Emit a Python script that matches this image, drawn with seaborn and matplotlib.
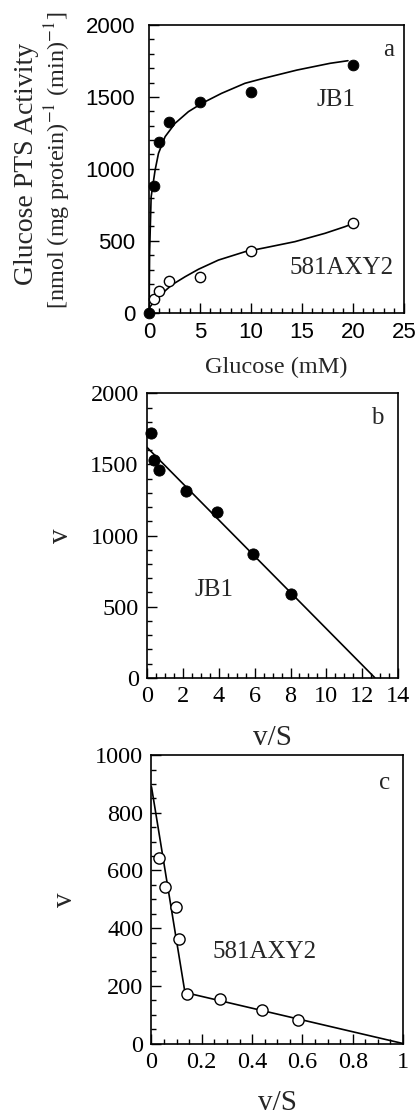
import matplotlib
matplotlib.use('Agg')
import matplotlib.pyplot as plt
from matplotlib.ticker import MultipleLocator
import seaborn as sns

# panel a: glucose PTS activity vs glucose
glucose = [0.5, 1, 2, 5, 10, 20]
jb1_act = [883, 1189, 1328, 1467, 1532, 1722]
axy2_act = [93, 153, 220, 246, 431, 626]

# fitted curves
jb1_curve_x = [0, 0.05, 0.2, 0.59, 0.92, 1.57, 2.55, 3.86, 5.16, 7.1, 9.4, 11.2, 14.5, 17.75, 19.5]
jb1_curve_y = [0, 420, 806, 992, 1108, 1224, 1317, 1398, 1455, 1525, 1595, 1629, 1687, 1734, 1752]
axy2_curve_x = [0, 0.1, 0.92, 2.22, 3.53, 4.84, 6.8, 9.4, 11.4, 14.3, 17.25, 19.2, 19.9]
axy2_curve_y = [0, 42, 111, 193, 250, 302, 366, 424, 452, 494, 552, 598, 617]

# panel b: Eadie-Hofstee, JB1
b_vs = [0.22, 0.41, 0.67, 2.15, 3.9, 5.92, 8.02]
b_v = [1723, 1531, 1461, 1315, 1167, 868, 586]
b_line_x = [0, 12.7]
b_line_y = [1620, 0]

# panel c: Eadie-Hofstee, 581AXY2
c_vs = [0.031, 0.054, 0.096, 0.109, 0.14, 0.272, 0.44, 0.584]
c_v = [644, 544, 474, 361, 172, 155, 118, 81]
c_line_x = [0, 0.133, 1.0]
c_line_y = [890, 177, 0]
c_tick_labels = ['0', '0.2', '0.4', '0.6', '0.8', '1']

sns.set_theme(style='ticks')
plt.rcParams['font.family'] = ['Liberation Serif', 'DejaVu Serif']
plt.rcParams['mathtext.fontset'] = 'stix'
plt.rcParams['axes.linewidth'] = 1.2

SERIF = 'Liberation Serif'
SANS = 'Liberation Sans'


def style_axes(ax, xmaj, xmin, ymaj, ymin, tickfont, labelsize):
    ax.xaxis.set_major_locator(MultipleLocator(xmaj))
    ax.xaxis.set_minor_locator(MultipleLocator(xmin))
    ax.yaxis.set_major_locator(MultipleLocator(ymaj))
    ax.yaxis.set_minor_locator(MultipleLocator(ymin))
    ax.tick_params(which='both', direction='in', top=False, right=False,
                   color='black', width=1.0)
    ax.tick_params(which='major', length=7, labelsize=labelsize, pad=6)
    ax.tick_params(which='minor', length=3.5)
    for lab in ax.get_xticklabels() + ax.get_yticklabels():
        lab.set_family(tickfont)
        lab.set_color('black')
    for sp in ax.spines.values():
        sp.set_color('black')
        sp.set_visible(True)
    ax.set_facecolor('white')


fig = plt.figure(figsize=(4.2, 11.18), dpi=100)
fig.patch.set_facecolor('white')

# ---- panel a ----
ax = fig.add_axes([0.355, 0.7203, 0.607, 0.2573])
sns.lineplot(x=jb1_curve_x, y=jb1_curve_y, color='black', lw=1.2, ax=ax)
sns.lineplot(x=axy2_curve_x, y=axy2_curve_y, color='black', lw=1.2, ax=ax)
sns.scatterplot(x=[0] + glucose, y=[0] + jb1_act, color='black', s=60,
                edgecolor='black', zorder=3, clip_on=False, ax=ax)
sns.scatterplot(x=glucose, y=axy2_act, facecolor='white', s=55,
                edgecolor='black', linewidth=1.0, zorder=3, clip_on=False, ax=ax)
ax.set_xlim(0, 25)
ax.set_ylim(0, 2000)
style_axes(ax, 5, 1, 500, 100, SANS, 16)
ax.tick_params(axis='y', which='major', pad=10)
ax.tick_params(axis='x', which='major', pad=7)
ax.set_xlabel('Glucose (mM)', fontsize=17.5, family=SERIF, labelpad=10)
# two-line y label, first line is set a bit larger in the original
fig.text(0.062, 0.853, 'Glucose PTS Activity', rotation=90, fontsize=20,
         family=SERIF, ha='center', va='center')
fig.text(0.138, 0.857, '[nmol (mg protein)$^{-1}$ (min)$^{-1}$]', rotation=90,
         fontsize=17.5, family=SERIF, ha='center', va='center')
ax.text(0.941, 0.913, 'a', transform=ax.transAxes, fontsize=18, ha='center', va='center')
ax.text(0.733, 0.739, 'JB1', transform=ax.transAxes, fontsize=18, ha='center', va='center')
ax.text(0.755, 0.155, '581AXY2', transform=ax.transAxes, fontsize=18, ha='center', va='center')

# ---- panel b ----
ax = fig.add_axes([0.35, 0.3938, 0.598, 0.2544])
sns.lineplot(x=b_line_x, y=b_line_y, color='black', lw=1.2, ax=ax)
sns.scatterplot(x=b_vs, y=b_v, color='black', s=65, edgecolor='black',
                zorder=3, clip_on=False, ax=ax)
ax.set_xlim(0, 14)
ax.set_ylim(0, 2000)
style_axes(ax, 2, 0.5, 500, 100, SERIF, 17.5)
ax.set_xlabel('v/S', fontsize=21, family=SERIF, labelpad=13)
ax.set_ylabel('v', fontsize=21, family=SERIF, labelpad=12)
ax.text(0.915, 0.912, 'b', transform=ax.transAxes, fontsize=18, ha='center', va='center')
ax.text(0.265, 0.308, 'JB1', transform=ax.transAxes, fontsize=18, ha='center', va='center')

# ---- panel c ----
ax = fig.add_axes([0.3607, 0.0666, 0.599, 0.258])
sns.lineplot(x=c_line_x, y=c_line_y, color='black', lw=1.2, ax=ax)
sns.scatterplot(x=c_vs, y=c_v, facecolor='white', s=65, edgecolor='black',
                linewidth=1.0, zorder=3, clip_on=False, ax=ax)
ax.set_xlim(0, 1)
ax.set_ylim(0, 1000)
style_axes(ax, 0.2, 0.05, 200, 50, SERIF, 17.5)
ax.set_xticks([0, 0.2, 0.4, 0.6, 0.8, 1.0])
ax.set_xticklabels(c_tick_labels, family=SERIF, fontsize=17.5)
ax.set_xlabel('v/S', fontsize=21, family=SERIF, labelpad=12)
ax.set_ylabel('v', fontsize=21, family=SERIF, labelpad=12)
ax.text(0.928, 0.902, 'c', transform=ax.transAxes, fontsize=18, ha='center', va='center')
ax.text(0.451, 0.318, '581AXY2', transform=ax.transAxes, fontsize=18, ha='center', va='center')

fig.savefig('out.png', dpi=100, facecolor='white')
